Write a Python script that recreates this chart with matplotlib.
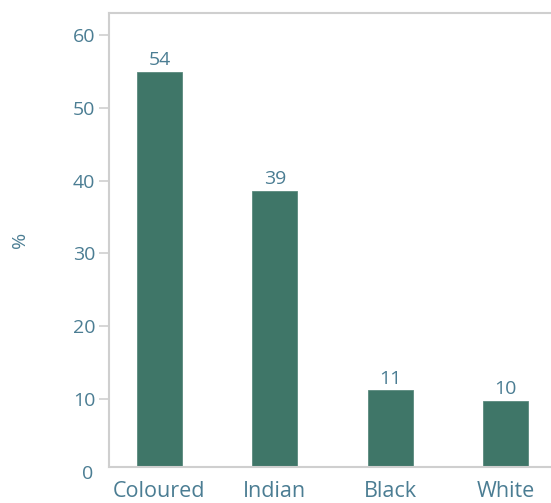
import numpy as np
import matplotlib
matplotlib.use('Agg')
import matplotlib.pyplot as plt

categories = ['Coloured', 'Indian', 'Black', 'White']
heights = [54.9, 38.6, 11.2, 9.8]
value_labels = ['54', '39', '11', '10']
yticks = [10, 20, 30, 40, 50, 60]

bar_color = '#3f7668'
text_color = '#4b7d93'
spine_color = '#cfcfcf'

plt.rcParams['font.family'] = ['Open Sans', 'DejaVu Sans']

fig = plt.figure(figsize=(5.51, 5.03), dpi=100)
ax = fig.add_axes([0.1978, 0.0716, 0.8022, 0.9026])

x = np.arange(len(categories))
bars = ax.bar(x, heights, width=0.39, color=bar_color, edgecolor='#5a8a7e', linewidth=0.6)

for xi, h, lab in zip(x, heights, value_labels):
    ax.annotate(lab, (xi, h), xytext=(0, 2), textcoords='offset points',
                ha='center', va='bottom', fontsize=14, color=text_color)

ax.set_xlim(-0.438, 3.395)
ax.set_ylim(0.7, 63)
ax.set_yticks(yticks)
ax.set_yticklabels([str(t) for t in yticks])
ax.set_xticks(x)
ax.set_xticklabels(categories)

ax.tick_params(axis='y', length=7, width=1.2, color=spine_color, labelsize=14,
               labelcolor=text_color, pad=3)
ax.tick_params(axis='x', length=0, labelsize=15.5, labelcolor=text_color, pad=10)

# zero label sits below the baseline without a tick mark
ax.text(-0.438 - 0.14, -0.3, '0', ha='right', va='center',
        fontsize=14, color=text_color, clip_on=False)

ax.set_ylabel('%', fontsize=14, color=text_color)
ax.yaxis.set_label_coords(-0.18, 0.5)

for side in ['left', 'top', 'bottom']:
    ax.spines[side].set_color(spine_color)
    ax.spines[side].set_linewidth(1.5)
ax.spines['right'].set_visible(False)

fig.savefig('out.png', dpi=100)
